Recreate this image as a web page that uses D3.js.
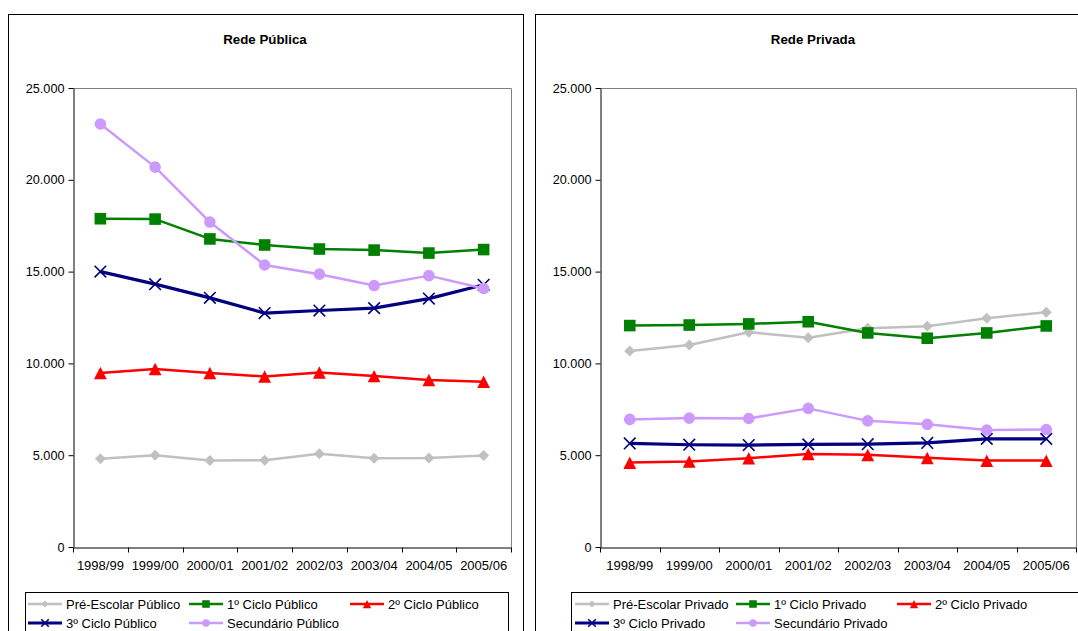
<!DOCTYPE html>
<html><head><meta charset="utf-8">
<script src="https://cdn.jsdelivr.net/npm/d3@7"></script>
<style>
html,body{margin:0;padding:0;background:#fff;}
svg{display:block;font-family:"Liberation Sans",Arial,sans-serif;}
</style></head>
<body><svg id="c" width="1078" height="631"></svg>
<script>
const categories = ["1998/99","1999/00","2000/01","2001/02","2002/03","2003/04","2004/05","2005/06"];
const yTicks = [0,5000,10000,15000,20000,25000];

const preEscolarPublico = [4800,5000,4710,4730,5080,4830,4850,4980];
const cicloUmPublico    = [17880,17860,16780,16450,16230,16170,16010,16200];
const cicloDoisPublico  = [9480,9700,9480,9290,9510,9315,9100,9005];
const cicloTresPublico  = [15000,14315,13570,12740,12880,13010,13530,14280];
const secundarioPublico = [23040,20690,17700,15360,14860,14240,14780,14080];

const preEscolarPrivado = [10680,11000,11700,11400,11910,12020,12460,12790];
const cicloUmPrivado    = [12060,12090,12150,12270,11660,11370,11660,12040];
const cicloDoisPrivado  = [4600,4660,4840,5070,5020,4860,4710,4710];
const cicloTresPrivado  = [5640,5570,5550,5590,5600,5670,5890,5890];
const secundarioPrivado = [6950,7020,7000,7550,6870,6680,6370,6400];

const publicoNames = ["Pré-Escolar Público","1º Ciclo Público","2º Ciclo Público","3º Ciclo Público","Secundário Público"];
const privadoNames = ["Pré-Escolar Privado","1º Ciclo Privado","2º Ciclo Privado","3º Ciclo Privado","Secundário Privado"];

const styles = [
  {color:"#C0C0C0", width:2.5, marker:"diamond"},
  {color:"#008000", width:2.5, marker:"square"},
  {color:"#FF0000", width:2.5, marker:"triangle"},
  {color:"#000080", width:3.2, marker:"x"},
  {color:"#CC99FF", width:2.5, marker:"circle"}
];

const panels = [
  {title:"Rede Pública", box:[8,14,515,640], plot:[73,88,511,547], titleX:265,
   series:[preEscolarPublico,cicloUmPublico,cicloDoisPublico,cicloTresPublico,secundarioPublico], names:publicoNames,
   legendBox:[25,592,483,60], cols:[[28,66],[189,227],[350,388]]},
  {title:"Rede Privada", box:[535,14,600,640], plot:[600,88,1076,547], titleX:813,
   series:[preEscolarPrivado,cicloUmPrivado,cicloDoisPrivado,cicloTresPrivado,secundarioPrivado], names:privadoNames,
   legendBox:[571,592,520,60], cols:[[575,613],[736,774],[897,935]]}
];

function markerPath(type, s){
  switch(type){
    case "diamond": return `M0,${-s}L${s},0L0,${s}L${-s},0Z`;
    case "square": return `M${-s},${-s}H${s}V${s}H${-s}Z`;
    case "triangle": return `M0,${-s*1.05}L${s*1.1},${s*1.1}L${-s*1.1},${s*1.1}Z`;
    case "x": return `M${-s},${-s}L${s},${s}M${-s},${s}L${s},${-s}`;
    case "circle": return d3.arc()({innerRadius:0,outerRadius:s,startAngle:0,endAngle:2*Math.PI});
  }
}
function drawMarker(g, type, color, s){
  const p = g.append("path").attr("d", markerPath(type, s));
  if(type==="x") p.attr("fill","none").attr("stroke",color).attr("stroke-width",1.6);
  else p.attr("fill",color).attr("stroke","none");
  return p;
}
const markerSize = {diamond:5.5, square:5.8, triangle:5.8, x:5.8, circle:5.8};

const svg = d3.select("#c");
const fmt = d => d===0 ? "0" : d3.format(",")(d).replace(/,/g,".");

panels.forEach(P=>{
  const g = svg.append("g");
  g.append("rect").attr("x",P.box[0]+0.5).attr("y",P.box[1]+0.5).attr("width",P.box[2]).attr("height",P.box[3])
    .attr("fill","none").attr("stroke","#000").attr("stroke-width",1);
  g.append("text").attr("x",P.titleX).attr("y",39).attr("text-anchor","middle").attr("dy","0.35em")
    .attr("font-size",13.3).attr("font-weight","bold").text(P.title);

  const [x0,y0,x1,y1] = P.plot;
  const x = d3.scaleBand().domain(categories).range([x0,x1]).padding(0);
  const y = d3.scaleLinear().domain([0,25000]).range([y1,y0]);
  const cx = c => x(c) + x.bandwidth()/2;

  g.append("path").attr("d",`M${x0},${y0+0.5}H${x1+0.5}V${y1}`).attr("fill","none").attr("stroke","#808080").attr("stroke-width",1);

  const ya = g.append("g").attr("transform",`translate(${x0+0.5},0)`)
    .call(d3.axisLeft(y).tickValues(yTicks).tickFormat(fmt).tickSize(5).tickPadding(4).tickSizeOuter(0));
  ya.selectAll("text").attr("font-size",12.7).attr("font-family","Liberation Sans, Arial, sans-serif").attr("fill","#000");
  ya.select(".domain").attr("stroke","#000");

  const xa = g.append("g").attr("transform",`translate(0,${y1+0.5})`)
    .call(d3.axisBottom(x).tickSize(0).tickPadding(13).tickSizeOuter(0));
  xa.selectAll("text").attr("font-size",13).attr("font-family","Liberation Sans, Arial, sans-serif").attr("fill","#000");
  xa.select(".domain").attr("stroke","#000");
  const bounds = categories.map(c=>x(c)).concat([x1]);
  xa.selectAll("line.bt").data(bounds).join("line").attr("class","bt")
    .attr("x1",d=>Math.round(d)+0.5).attr("x2",d=>Math.round(d)+0.5).attr("y1",0).attr("y2",5).attr("stroke","#000");

  P.series.forEach((vals,i)=>{
    const st = styles[i];
    const line = d3.line().x((d,j)=>cx(categories[j])).y(d=>y(d));
    g.append("path").datum(vals).attr("d",line).attr("fill","none").attr("stroke",st.color)
      .attr("stroke-width",st.width).attr("stroke-linejoin","round");
    vals.forEach((v,j)=>{
      const mg = g.append("g").attr("transform",`translate(${cx(categories[j])},${y(v)})`);
      drawMarker(mg, st.marker, st.color, markerSize[st.marker]);
    });
  });

  const lb = P.legendBox;
  g.append("rect").attr("x",lb[0]+0.5).attr("y",lb[1]+0.5).attr("width",lb[2]).attr("height",lb[3])
    .attr("fill","#fff").attr("stroke","#000").attr("stroke-width",1);
  const pos = [[0,0],[1,0],[2,0],[0,1],[1,1]];
  P.names.forEach((name,i)=>{
    const st = styles[i];
    const col = P.cols[pos[i][0]];
    const ry = 604 + pos[i][1]*19;
    const lx0 = col[0], lx1 = col[1]-4;
    g.append("line").attr("x1",lx0).attr("x2",lx1).attr("y1",ry).attr("y2",ry)
      .attr("stroke",st.color).attr("stroke-width",st.width);
    const mg = g.append("g").attr("transform",`translate(${(lx0+lx1)/2},${ry})`);
    drawMarker(mg, st.marker, st.color, markerSize[st.marker]*0.65);
    g.append("text").attr("x",col[1]).attr("y",ry).attr("dy","0.35em").attr("font-size",13).text(name);
  });
});
</script></body></html>
